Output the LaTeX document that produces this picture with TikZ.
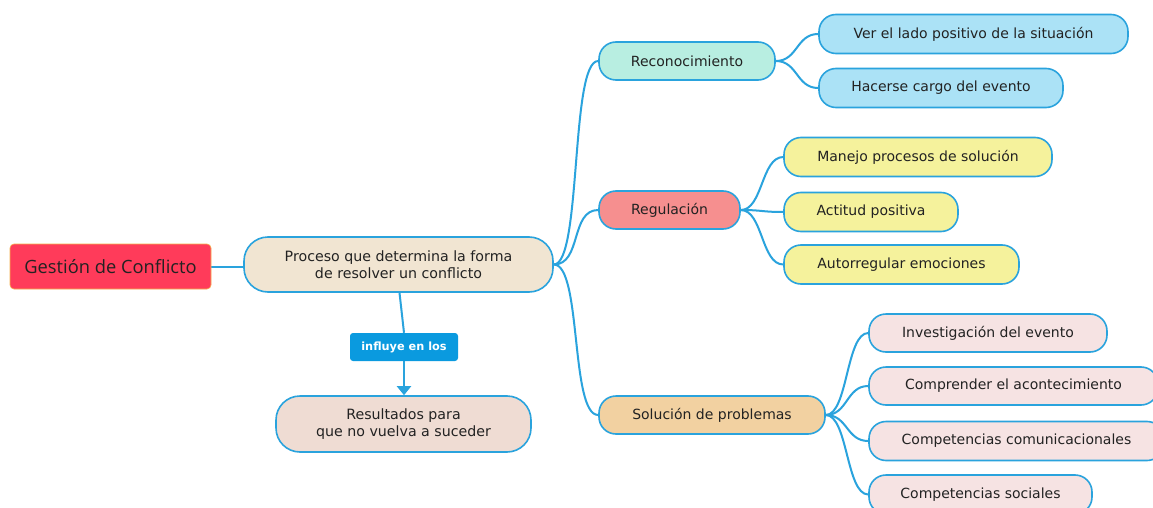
\documentclass[tikz,border=0pt]{standalone}
\usepackage{fontspec}
\setmainfont{DejaVu Sans}
\newfontfamily\titlefont{Open Sans}
\usetikzlibrary{backgrounds,arrows.meta}
\definecolor{lnk}{HTML}{2AA3DD}
\definecolor{txt}{HTML}{222222}
\definecolor{cgest}{HTML}{FF3B5A}
\definecolor{cgestb}{HTML}{F6B04A}
\definecolor{cproc}{HTML}{F1E5D2}
\definecolor{clab}{HTML}{0A9ADF}
\definecolor{cres}{HTML}{EFDCD3}
\definecolor{crec}{HTML}{B8EEE1}
\definecolor{creg}{HTML}{F68F8F}
\definecolor{csol}{HTML}{F2D1A1}
\definecolor{cblue}{HTML}{ABE2F6}
\definecolor{cyel}{HTML}{F5F29C}
\definecolor{cpink}{HTML}{F6E3E3}
\begin{document}
\begin{tikzpicture}[x=1pt,y=-1pt,
  box/.style={draw=lnk, line width=1.6pt, rounded corners=17pt, text=txt, inner sep=0pt, align=center,
    font=\fontsize{14}{17}\selectfont, minimum height=39pt},
  big/.style={box, rounded corners=24pt, font=\fontsize{14.2}{16.5}\selectfont},
  link/.style={draw=lnk, line width=2pt}
]
\useasboundingbox (0,0) rectangle (1153,508);

% nodes
\node[draw=cgestb, line width=0.6pt, fill=cgest, rounded corners=4pt, minimum width=201pt, minimum height=45pt,
  inner sep=0pt, text=txt, font=\titlefont\fontsize{18.3}{21}\selectfont] (gest) at (110.5,266.5) {Gestión de Conflicto};
\node[big, fill=cproc, minimum width=309pt, minimum height=55pt] (proc) at (398.5,264.5)
  {Proceso que determina la forma\\de resolver un conflicto};
\node[fill=clab, rounded corners=3pt, minimum width=108pt, minimum height=28pt, inner sep=0pt,
  text=white, font=\bfseries\fontsize{11.3}{13}\selectfont] (lab) at (404,347) {influye en los};
\node[big, fill=cres, minimum width=255pt, minimum height=56pt] (res) at (403.5,424)
  {Resultados para\\que no vuelva a suceder};

\node[box, fill=crec, minimum width=176pt, minimum height=38pt] (rec) at (687,61) {Reconocimiento};
\node[box, fill=creg, minimum width=141pt, minimum height=38pt] (reg) at (669.5,210) {Regulación};
\node[box, fill=csol, minimum width=226pt, minimum height=38pt] (sol) at (712,415) {Solución de problemas};

\node[box, fill=cblue, minimum width=309pt] (ver) at (973.5,34) {Ver el lado positivo de la situación};
\node[box, fill=cblue, minimum width=244pt] (hac) at (941,88) {Hacerse cargo del evento};

\node[box, fill=cyel, minimum width=268pt] (man) at (918,157) {Manejo procesos de solución};
\node[box, fill=cyel, minimum width=174pt] (act) at (871,212) {Actitud positiva};
\node[box, fill=cyel, minimum width=235pt] (aut) at (901.5,264.5) {Autorregular emociones};

\node[box, fill=cpink, minimum width=238pt, minimum height=38pt] (inv) at (988,333) {Investigación del evento};
\node[box, fill=cpink, minimum width=289pt, minimum height=38pt] (com) at (1013.5,386) {Comprender el acontecimiento};
\node[box, fill=cpink, minimum width=295pt] (cco) at (1016.5,441) {Competencias comunicacionales};
\node[box, fill=cpink, minimum width=223pt] (soc) at (980.5,494.5) {Competencias sociales};

% connectors
\begin{scope}[on background layer]
\fill[white] (0,0) rectangle (1153,508);
\draw[link] (gest.east) -- (proc.west |- gest.east);
\draw[link] ([xshift=1pt]proc.south) -- (lab.north);
\draw[link, -{Triangle[length=9pt,width=14pt]}] (lab.south) -- (res.north -| lab.south);
\foreach \c in {rec,reg,sol}
  \draw[link] (proc.east) .. controls +(28,0) and +(-28,0) .. (\c.west);
\foreach \c in {ver,hac}
  \draw[link] (rec.east) .. controls +(22,0) and +(-22,0) .. (\c.west);
\foreach \c in {man,act,aut}
  \draw[link] (reg.east) .. controls +(22,0) and +(-22,0) .. (\c.west);
\foreach \c in {inv,com,cco,soc}
  \draw[link] (sol.east) .. controls +(22,0) and +(-22,0) .. (\c.west);
\end{scope}
\end{tikzpicture}
\end{document}
